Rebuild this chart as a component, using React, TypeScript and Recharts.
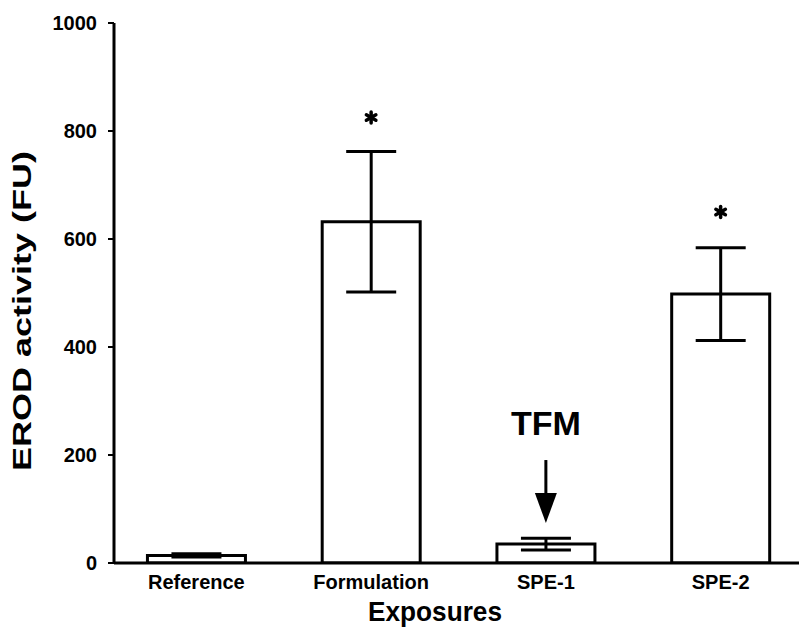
import React from 'react';
import { BarChart, Bar, XAxis, YAxis, ErrorBar, ReferenceDot, Label } from 'recharts';

const categories = ['Reference', 'Formulation', 'SPE-1', 'SPE-2'];
const means = [14, 632, 35, 498];
const errors = [3, 130, 11, 86];
const significance = ['', '*', '', '*'];
const starValues = [0, 825, 0, 650];
const yTicks = [0, 200, 400, 600, 800, 1000];
const tfmCategory = 'SPE-1';
const tfmText = 'TFM';
const tfmTextValue = 260;
const tfmArrowTip = 74;

const data = categories.map((name, i) => ({ name, value: means[i], err: errors[i] }));

const FONT = '"Liberation Sans", Arial, Helvetica, sans-serif';

const YTick = (props: any) => {
  const { x, y, payload } = props;
  return (
    <text x={x} y={y} dy="0.36em" textAnchor="end" fontFamily={FONT} fontWeight="bold" fontSize={20} fill="#000">
      {payload.value}
    </text>
  );
};

const XTick = (props: any) => {
  const { x, y, payload } = props;
  return (
    <text x={x} y={y} dy="0.72em" textAnchor="middle" fontFamily={FONT} fontWeight="bold" fontSize={20} fill="#000">
      {payload.value}
    </text>
  );
};

const YLabel = (props: any) => {
  const vb = props.viewBox || { x: 0, y: 23, width: 114, height: 540 };
  const cx = 22;
  const cy = vb.y + vb.height / 2 + 18;
  return (
    <text
      x={cx}
      y={cy}
      transform={`rotate(-90 ${cx} ${cy})`}
      textAnchor="middle"
      dominantBaseline="central"
      fontFamily={FONT}
      fontWeight="bold"
      fontSize={26}
      textLength={320}
      lengthAdjust="spacingAndGlyphs"
      fill="#000"
    >
      EROD activity (FU)
    </text>
  );
};

const XLabel = () => (
  <text
    x={435}
    y={621}
    textAnchor="middle"
    fontFamily={FONT}
    fontWeight="bold"
    fontSize={28}
    textLength={134}
    lengthAdjust="spacingAndGlyphs"
    fill="#000"
  >
    Exposures
  </text>
);

const Star = (props: any) => {
  const { cx, cy } = props;
  const r = 5.5;
  const lines = [90, 30, 150].map((a) => {
    const rad = (a * Math.PI) / 180;
    return (
      <line
        key={a}
        x1={cx - r * Math.cos(rad)}
        y1={cy - r * Math.sin(rad)}
        x2={cx + r * Math.cos(rad)}
        y2={cy + r * Math.sin(rad)}
        stroke="#000"
        strokeWidth={3.5}
        strokeLinecap="round"
      />
    );
  });
  return <g>{lines}</g>;
};

const Arrow = (props: any) => {
  const { cx, cy } = props;
  return (
    <g>
      <rect x={cx - 1.5} y={cy - 63} width={3} height={34} fill="#000" />
      <polygon points={`${cx - 11},${cy - 30} ${cx + 11},${cy - 30} ${cx},${cy}`} fill="#000" />
    </g>
  );
};

const TfmText = (props: any) => {
  const { cx, cy } = props;
  return (
    <text
      x={cx}
      y={cy + 12}
      textAnchor="middle"
      fontFamily={FONT}
      fontWeight="bold"
      fontSize={33}
      textLength={70}
      lengthAdjust="spacingAndGlyphs"
      fill="#000"
    >
      {tfmText}
    </text>
  );
};

export default function App() {
  return (
    <div style={{ position: 'absolute', left: 0, top: 0, width: 799, height: 632, overflow: 'hidden', background: '#fff' }}>
      <BarChart
        width={808}
        height={632}
        data={data}
        margin={{ top: 23, right: 0, bottom: 0, left: 0 }}
        barCategoryGap="22%"
      >
        <XAxis
          dataKey="name"
          height={69}
          tickLine={false}
          tickSize={0}
          tickMargin={12}
          axisLine={{ stroke: '#000', strokeWidth: 3 }}
          tick={<XTick />}
          padding={{ left: -5, right: 0 }}
          interval={0}
        >
          <Label content={<XLabel />} />
        </XAxis>
        <YAxis
          width={114}
          domain={[0, 1000]}
          ticks={yTicks}
          allowDataOverflow
          tickSize={6}
          tickMargin={11}
          tickLine={{ stroke: '#000', strokeWidth: 2 }}
          axisLine={{ stroke: '#000', strokeWidth: 3 }}
          tick={<YTick />}
        >
          <Label content={<YLabel />} />
        </YAxis>
        <Bar dataKey="value" fill="#fff" stroke="#000" strokeWidth={3} isAnimationActive={false}>
          <ErrorBar dataKey="err" width={25} stroke="#000" strokeWidth={3} isAnimationActive={false} />
        </Bar>
        {categories.map((c, i) =>
          significance[i] ? (
            <ReferenceDot key={c} x={c} y={starValues[i]} shape={<Star />} />
          ) : null
        )}
        <ReferenceDot x={tfmCategory} y={tfmArrowTip} shape={<Arrow />} />
        <ReferenceDot x={tfmCategory} y={tfmTextValue} shape={<TfmText />} />
      </BarChart>
    </div>
  );
}
